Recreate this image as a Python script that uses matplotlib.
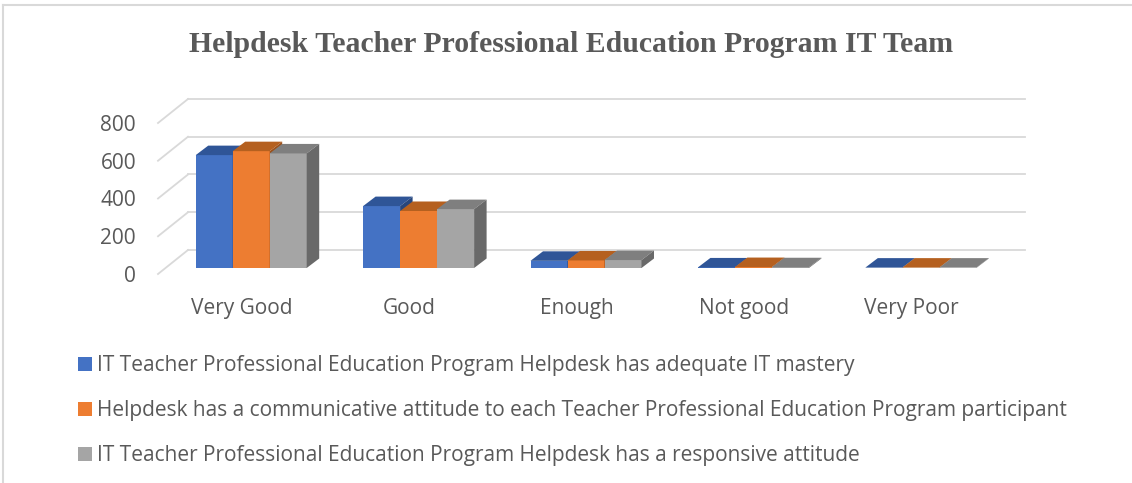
import numpy as np
import matplotlib.pyplot as plt
from matplotlib.patches import Polygon, Patch
from matplotlib.lines import Line2D

categories = ["Very Good", "Good", "Enough", "Not good", "Very Poor"]
series_names = [
    "IT Teacher Professional Education Program Helpdesk has adequate IT mastery",
    "Helpdesk has a communicative attitude to each Teacher Professional Education Program participant",
    "IT Teacher Professional Education Program Helpdesk has a responsive attitude",
]
mastery = [598, 328, 38, 3, 2]
communicative = [619, 302, 40, 5, 2]
responsive = [607, 312, 42, 4, 2]
y_ticks = [0, 200, 400, 600, 800]
title = "Helpdesk Teacher Professional Education Program IT Team"

front_c = ["#4472C4", "#ED7D31", "#A5A5A5"]
top_c = ["#2F5597", "#B5601F", "#7F7F7F"]
side_c = ["#27467C", "#9C511B", "#696969"]
text_c = "#595959"
grid_c = "#D9D9D9"

W, H = 1132, 483
fig = plt.figure(figsize=(W / 100, H / 100), dpi=100)

# front plane of the 3-D box in pixels
x0, x1, y0, y1 = 158, 995, 274, 123
ax = fig.add_axes([x0 / W, 1 - y0 / H, (x1 - x0) / W, (y0 - y1) / H])
ax.set_xlim(-0.5, 4.5)
ax.set_ylim(0, 800)
ux = 5 / (x1 - x0)      # data units per pixel
uy = 800 / (y0 - y1)

# back wall + floor diagonals
wx, wy = 30 * ux, 24 * uy
for v in y_ticks:
    ax.plot([-0.5, -0.5 + wx], [v, v + wy], color=grid_c, lw=1.3, clip_on=False, zorder=1)
    ax.plot([-0.5 + wx, 4.5 + wx], [v + wy, v + wy], color=grid_c, lw=1.3, clip_on=False, zorder=1)

# bars with depth faces
bw = 37 * ux
base = 6 * uy
shift = 9.5 * ux
dx, dy = 12.5 * ux, 9.5 * uy
for j, vals in enumerate([mastery, communicative, responsive]):
    xs = np.arange(len(categories)) + (j - 1) * bw + shift
    ax.bar(xs, vals, bw, bottom=base, color=front_c[j], zorder=3 + j, clip_on=False)
    for xc, v in zip(xs, vals):
        xl, xr, t = xc - bw / 2, xc + bw / 2, base + v
        ax.add_patch(Polygon([(xl, t), (xr, t), (xr + dx, t + dy), (xl + dx, t + dy)],
                             closed=True, facecolor=top_c[j], edgecolor="none",
                             zorder=3 + j, clip_on=False))
        ax.add_patch(Polygon([(xr, base), (xr, t), (xr + dx, t + dy), (xr + dx, base + dy)],
                             closed=True, facecolor=side_c[j], edgecolor="none",
                             zorder=3 + j, clip_on=False))

for s in ax.spines.values():
    s.set_visible(False)
ax.set_yticks(y_ticks)
ax.set_xticks(range(len(categories)), categories)
ax.tick_params(axis="y", length=0, pad=15.8, labelsize=15, labelcolor=text_c)
ax.tick_params(axis="x", length=0, pad=17.5, labelsize=15, labelcolor=text_c)
for lab in ax.get_xticklabels() + ax.get_yticklabels():
    lab.set_family("Open Sans")

fig.text(0.5045, 1 - 45 / H, title, ha="center", va="center", fontsize=21.4,
         fontweight="bold", family="Liberation Serif", color=text_c)

handles = [Patch(facecolor=c, edgecolor="none") for c in front_c]
fig.legend(handles, series_names, loc="upper left", bbox_to_anchor=(78 / W, 1 - 355 / H),
           frameon=False, borderpad=0, borderaxespad=0, handlelength=0.67, handleheight=0.67,
           handletextpad=0.24, labelspacing=1.16, labelcolor=text_c,
           prop={"family": "Open Sans", "size": 15})

# chart border
fig.add_artist(Line2D([3 / W, 1], [1 - 5 / H, 1 - 5 / H], color=grid_c, lw=1.5))
fig.add_artist(Line2D([3 / W, 3 / W], [0, 1 - 5 / H], color=grid_c, lw=1.5))

fig.savefig("out.png", dpi=100)
